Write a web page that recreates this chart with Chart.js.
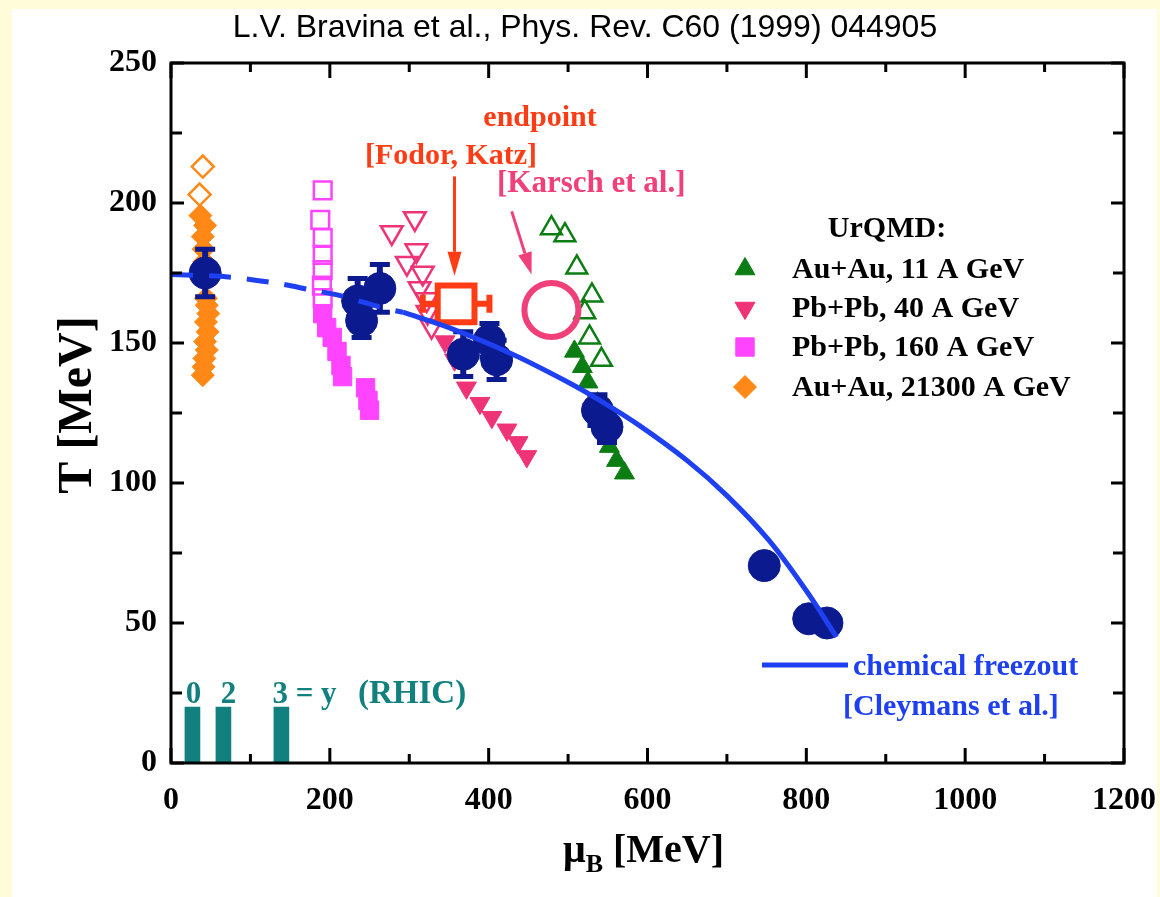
<!DOCTYPE html>
<html>
<head>
<meta charset="utf-8">
<script src="https://cdn.jsdelivr.net/npm/chart.js@4.4.1/dist/chart.umd.min.js"></script>
<style>
  html, body { margin: 0; padding: 0; background: #fffdd9; }
  canvas { display: block; }
</style>
</head>
<body>
<canvas id="c" width="1160" height="897"></canvas>
<script>
// ---- axis ticks ----
const muTicks = [0, 200, 400, 600, 800, 1000, 1200];
const muMinor = [100, 300, 500, 700, 900, 1100];
const tTicks = [0, 50, 100, 150, 200, 250];
const tMinor = [25, 75, 125, 175, 225];

// ---- UrQMD: Au+Au, 11 A GeV ----
const au11OpenMu = [479, 496, 511, 530, 521, 527, 542];
const au11OpenT  = [191, 188.5, 177, 167, 161, 152, 144];
const au11Mu = [508, 518, 525, 537, 552, 561, 571];
const au11T  = [147, 141.5, 136, 128.5, 113, 108, 103.5];

// ---- UrQMD: Pb+Pb, 40 A GeV ----
const pb40OpenMu = [307, 278, 309, 297, 317, 313, 322, 323, 328];
const pb40OpenT  = [194.5, 189.5, 183, 178.5, 175, 169.5, 165.5, 161, 156];
const pb40Mu = [345, 357, 372, 389, 404, 423, 437, 448];
const pb40T  = [150.5, 144, 134, 128.5, 123.5, 119, 114.5, 109.5];

// ---- UrQMD: Pb+Pb, 160 A GeV ----
const pb160OpenMu = [191, 188, 191, 191, 191, 190, 191];
const pb160OpenT  = [204.5, 194, 187.5, 181.5, 176, 170.5, 166];
const pb160Mu = [191, 196, 203, 209, 214, 216, 245, 248, 250];
const pb160T  = [160.5, 155.5, 152, 147, 142, 138, 134, 129.5, 126];

// ---- UrQMD: Au+Au, 21300 A GeV ----
const au21OpenMu = [40, 36];
const au21OpenT  = [213, 203];
const au21Mu = [37, 43, 40, 41, 42, 44, 45, 47, 44, 46, 43, 45, 42, 41, 40];
const au21T  = [195.5, 192, 188, 183.5, 179, 166, 163.5, 160.5, 157.5, 154, 150.5, 147.5, 144.5, 141.5, 138.5];

// ---- chemical freeze-out points with errors ----
const cfoMu  = [43, 235, 240, 263, 368, 401, 410, 537, 549, 747, 803, 826];
const cfoT   = [175, 165, 158, 169.5, 146, 151, 144, 126, 120, 70.5, 51.5, 50];
const cfoErr = [8.5, 8, 6, 8.5, 8, 6, 7, 5.5, 5.5, 0, 0, 0];

// ---- chemical freeze-out curve [Cleymans et al.] ----
const curveDashMu = [0, 75, 140, 175, 212, 267, 292];
const curveDashT  = [174.5, 173.5, 171, 169, 167, 162.5, 161];
const curveMu = [292, 350, 430, 500, 540, 590, 650, 700, 753, 800, 838];
const curveT  = [161, 155.5, 146, 136, 129.5, 120.5, 108, 95.5, 79.5, 61.5, 45];

// ---- critical endpoints ----
const fodorKatzMu = [359];
const fodorKatzT  = [164];
const fodorKatzErrMu = [42];
const karschMu = [479];
const karschT  = [161.8];

// ---- RHIC rapidity markers y = 0, 2, 3 ----
const rhicMu = [27, 66, 139];
const rhicT  = [20, 20, 20];

const pts = (mu, t) => mu.map((m, i) => ({ x: m, y: t[i] }));

const C = {
  navy: '#0b1a8e', curve: '#1f40f0', green: '#0c7d12', rose: '#ee3377',
  magenta: '#ff44ff', orange: '#ff8816', red: '#ff3c14', karsch: '#f0407a', teal: '#11807f'
};
const SERIF = '"Liberation Serif", "Times New Roman", serif';
const SANS = '"Liberation Sans", Arial, sans-serif';
const CLEAR = 'rgba(255,255,255,0)';

// page background: pale border and white panel
const panel = {
  id: 'panel',
  beforeDraw(chart) {
    const ctx = chart.ctx;
    ctx.save();
    ctx.fillStyle = '#fffdd9';
    ctx.fillRect(0, 0, chart.width, chart.height);
    ctx.fillStyle = '#ffffff';
    ctx.fillRect(12, 9, 1145, chart.height - 9);
    ctx.restore();
  }
};

// closed frame with inward ticks on all four sides
const frame = {
  id: 'frame',
  afterDatasetsDraw(chart) {
    const { ctx, chartArea: a, scales: { x, y } } = chart;
    ctx.save();
    ctx.strokeStyle = '#000';
    ctx.lineWidth = 3;
    ctx.strokeRect(a.left, a.top, a.right - a.left, a.bottom - a.top);
    const tickX = (v, len) => {
      const px = x.getPixelForValue(v);
      ctx.beginPath();
      ctx.moveTo(px, a.bottom); ctx.lineTo(px, a.bottom - len);
      ctx.moveTo(px, a.top); ctx.lineTo(px, a.top + len);
      ctx.stroke();
    };
    const tickY = (v, len) => {
      const py = y.getPixelForValue(v);
      ctx.beginPath();
      ctx.moveTo(a.left, py); ctx.lineTo(a.left + len, py);
      ctx.moveTo(a.right, py); ctx.lineTo(a.right - len, py);
      ctx.stroke();
    };
    muTicks.forEach(v => tickX(v, 15));
    muMinor.forEach(v => tickX(v, 9));
    tTicks.forEach(v => tickY(v, 13));
    tMinor.forEach(v => tickY(v, 11));
    ctx.restore();
  }
};

// vertical error bars under the freeze-out points, horizontal bar for the lattice endpoint
const errorBars = {
  id: 'errorBars',
  beforeDatasetDraw(chart, args) {
    const ds = chart.data.datasets[args.index];
    const { ctx, scales: { x, y } } = chart;
    if (ds.id === 'cfo') {
      ctx.save();
      ctx.strokeStyle = C.navy;
      cfoMu.forEach((m, i) => {
        if (!cfoErr[i]) return;
        const px = x.getPixelForValue(m);
        const top = y.getPixelForValue(cfoT[i] + cfoErr[i]);
        const bot = y.getPixelForValue(cfoT[i] - cfoErr[i]);
        ctx.lineWidth = 6;
        ctx.beginPath(); ctx.moveTo(px, top); ctx.lineTo(px, bot); ctx.stroke();
        ctx.lineWidth = 5;
        ctx.beginPath();
        ctx.moveTo(px - 10, top); ctx.lineTo(px + 10, top);
        ctx.moveTo(px - 10, bot); ctx.lineTo(px + 10, bot);
        ctx.stroke();
      });
      ctx.restore();
    }
    if (ds.id === 'fk') {
      ctx.save();
      ctx.strokeStyle = C.red;
      ctx.lineWidth = 6;
      fodorKatzMu.forEach((m, i) => {
        const py = y.getPixelForValue(fodorKatzT[i]);
        const l = x.getPixelForValue(m - fodorKatzErrMu[i]);
        const r = x.getPixelForValue(m + fodorKatzErrMu[i]);
        ctx.beginPath(); ctx.moveTo(l, py); ctx.lineTo(r, py); ctx.stroke();
        ctx.beginPath();
        ctx.moveTo(l, py - 9); ctx.lineTo(l, py + 9);
        ctx.moveTo(r, py - 9); ctx.lineTo(r, py + 9);
        ctx.stroke();
      });
      ctx.restore();
    }
  }
};

function arrow(ctx, x1, y1, x2, y2, color, width, headLen, headHalf) {
  const ang = Math.atan2(y2 - y1, x2 - x1);
  const bx = x2 - headLen * Math.cos(ang), by = y2 - headLen * Math.sin(ang);
  ctx.strokeStyle = color; ctx.lineWidth = width;
  ctx.beginPath(); ctx.moveTo(x1, y1); ctx.lineTo(bx, by); ctx.stroke();
  ctx.fillStyle = color;
  ctx.beginPath(); ctx.moveTo(x2, y2);
  ctx.lineTo(bx + headHalf * Math.sin(ang), by - headHalf * Math.cos(ang));
  ctx.lineTo(bx - headHalf * Math.sin(ang), by + headHalf * Math.cos(ang));
  ctx.closePath(); ctx.fill();
}

function drawMarker(ctx, style, px, py, r, rot) {
  if (Chart.helpers && Chart.helpers.drawPoint) {
    Chart.helpers.drawPoint(ctx, { pointStyle: style, radius: r, rotation: rot || 0, borderWidth: 1 }, px, py);
    return;
  }
  ctx.beginPath();
  ctx.arc(px, py, r, 0, Math.PI * 2);
  ctx.fill();
}

// titles, legend and annotations
const labels = {
  id: 'labels',
  afterDraw(chart) {
    const { ctx, scales: { x, y } } = chart;
    const X = v => x.getPixelForValue(v), Y = v => y.getPixelForValue(v);
    ctx.save();

    // citation
    ctx.fillStyle = '#000';
    ctx.font = '32px ' + SANS;
    ctx.textAlign = 'center';
    ctx.textBaseline = 'alphabetic';
    ctx.fillText('L.V. Bravina et al., Phys. Rev. C60 (1999) 044905', 585, 37);

    // axis titles
    ctx.font = 'bold 48px ' + SERIF;
    ctx.save();
    ctx.translate(91, 405);
    ctx.rotate(-Math.PI / 2);
    ctx.textAlign = 'center';
    ctx.fillText('T [MeV]', 0, 0);
    ctx.restore();

    ctx.textAlign = 'left';
    ctx.font = 'bold 40px ' + SERIF;
    let tx = 563;
    ctx.fillText('\u03bc', tx, 862);
    tx += ctx.measureText('\u03bc').width;
    ctx.font = 'bold 26px ' + SERIF;
    ctx.fillText('B', tx, 872);
    tx += ctx.measureText('B').width;
    ctx.font = 'bold 40px ' + SERIF;
    ctx.fillText(' [MeV]', tx, 862);

    // legend
    ctx.font = 'bold 30px ' + SERIF;
    ctx.textAlign = 'center';
    ctx.textBaseline = 'middle';
    ctx.fillText('UrQMD:', 887, 229);
    const rows = [
      { label: 'Au+Au, 11 A GeV', color: C.green, style: 'triangle', r: 11.5, rot: 0 },
      { label: 'Pb+Pb, 40 A GeV', color: C.rose, style: 'triangle', r: 11.5, rot: 180 },
      { label: 'Pb+Pb, 160 A GeV', color: C.magenta, style: 'rect', r: 13, rot: 0 },
      { label: 'Au+Au, 21300 A GeV', color: C.orange, style: 'rectRot', r: 11.5, rot: 0 }
    ];
    const rowY = [269, 308, 347, 387];
    rows.forEach((row, i) => {
      ctx.fillStyle = row.color; ctx.strokeStyle = row.color; ctx.lineWidth = 1;
      drawMarker(ctx, row.style, 745, rowY[i], row.r, row.rot);
      ctx.fillStyle = '#000';
      ctx.textAlign = 'left';
      ctx.fillText(row.label, 792, rowY[i] + 1);
    });

    // lattice endpoints
    ctx.fillStyle = C.red;
    ctx.textAlign = 'center';
    ctx.textBaseline = 'alphabetic';
    ctx.font = 'bold 30px ' + SERIF;
    ctx.fillText('endpoint', 540, 126);
    ctx.fillText('[Fodor, Katz]', 451, 164);
    arrow(ctx, X(357), Y(209.5), X(357), Y(174), C.red, 3, 24, 7);

    ctx.fillStyle = C.karsch;
    ctx.textAlign = 'left';
    ctx.font = 'bold 31px ' + SERIF;
    ctx.fillText('[Karsch et al.]', 497, 192);
    arrow(ctx, X(429), Y(197), X(454), Y(174.5), C.karsch, 3, 22, 7);

    // freeze-out curve key
    ctx.strokeStyle = C.curve;
    ctx.lineWidth = 5;
    ctx.beginPath(); ctx.moveTo(762, 665); ctx.lineTo(848, 665); ctx.stroke();
    ctx.fillStyle = C.curve;
    ctx.textBaseline = 'middle';
    ctx.font = 'bold 30px ' + SERIF;
    ctx.fillText('chemical freezout', 853, 667);
    ctx.fillText('[Cleymans et al.]', 843, 707);

    // RHIC rapidities
    ctx.fillStyle = C.teal;
    ctx.textBaseline = 'alphabetic';
    ctx.font = 'bold 31px ' + SERIF;
    ctx.textAlign = 'center';
    ctx.fillText('0', X(rhicMu[0]) + 1, 703);
    ctx.fillText('2', X(rhicMu[1]) + 5, 703);
    ctx.textAlign = 'left';
    ctx.fillText('3 = y', X(rhicMu[2]) - 9, 703);
    ctx.font = 'bold 33px ' + SERIF;
    ctx.fillText('(RHIC)', 358, 703);

    ctx.restore();
  }
};

const tickFont = { family: SERIF, weight: 'bold', size: 32 };

new Chart(document.getElementById('c'), {
  type: 'scatter',
  data: {
    datasets: [
      { id: 'curveDash', type: 'line', data: pts(curveDashMu, curveDashT), showLine: true, pointRadius: 0,
        borderColor: C.curve, borderWidth: 5, borderDash: [22, 16], tension: 0.3, order: 0 },
      { id: 'curve', type: 'line', data: pts(curveMu, curveT), showLine: true, pointRadius: 0,
        borderColor: C.curve, borderWidth: 5, tension: 0.35, order: 0 },
      { id: 'cfo', data: pts(cfoMu, cfoT), pointStyle: 'circle', pointRadius: 16,
        backgroundColor: C.navy, borderColor: C.navy, borderWidth: 1, order: 1 },
      { id: 'fk', data: pts(fodorKatzMu, fodorKatzT), pointStyle: 'rect', pointRadius: 26,
        backgroundColor: '#ffffff', borderColor: C.red, borderWidth: 6, order: 2 },
      { id: 'karsch', data: pts(karschMu, karschT), pointStyle: 'circle', pointRadius: 27,
        backgroundColor: CLEAR, borderColor: C.karsch, borderWidth: 6, order: 3 },
      { id: 'au11', data: pts(au11Mu, au11T), pointStyle: 'triangle', pointRadius: 11.5,
        backgroundColor: C.green, borderColor: C.green, borderWidth: 1, order: 5 },
      { id: 'au11open', data: pts(au11OpenMu, au11OpenT), pointStyle: 'triangle', pointRadius: 12,
        backgroundColor: CLEAR, borderColor: C.green, borderWidth: 2.5, order: 5 },
      { id: 'pb40', data: pts(pb40Mu, pb40T), pointStyle: 'triangle', pointRotation: 180, pointRadius: 11.5,
        backgroundColor: C.rose, borderColor: C.rose, borderWidth: 1, order: 5 },
      { id: 'pb40open', data: pts(pb40OpenMu, pb40OpenT), pointStyle: 'triangle', pointRotation: 180, pointRadius: 12.5,
        backgroundColor: CLEAR, borderColor: C.rose, borderWidth: 2.5, order: 5 },
      { id: 'pb160', data: pts(pb160Mu, pb160T), pointStyle: 'rect', pointRadius: 13,
        backgroundColor: C.magenta, borderColor: C.magenta, borderWidth: 1, order: 5 },
      { id: 'pb160open', data: pts(pb160OpenMu, pb160OpenT), pointStyle: 'rect', pointRadius: 12.5,
        backgroundColor: CLEAR, borderColor: C.magenta, borderWidth: 2.5, order: 5 },
      { id: 'au21', data: pts(au21Mu, au21T), pointStyle: 'rectRot', pointRadius: 11.5,
        backgroundColor: C.orange, borderColor: C.orange, borderWidth: 1, order: 6 },
      { id: 'au21open', data: pts(au21OpenMu, au21OpenT), pointStyle: 'rectRot', pointRadius: 11,
        backgroundColor: CLEAR, borderColor: C.orange, borderWidth: 2.5, order: 6 },
      { id: 'rhic', type: 'bar', data: pts(rhicMu, rhicT), backgroundColor: C.teal,
        barThickness: 15, order: 9 }
    ]
  },
  options: {
    responsive: false,
    animation: false,
    devicePixelRatio: 1,
    events: [],
    layout: { padding: { left: 0, right: 36, top: 63, bottom: 0 } },
    plugins: { legend: { display: false }, tooltip: { enabled: false }, title: { display: false } },
    scales: {
      x: {
        type: 'linear', min: 0, max: 1200, position: 'bottom', offset: false,
        afterFit(s) { s.height = 134; s.paddingLeft = 0; s.paddingRight = 0; },
        afterBuildTicks(s) { s.ticks = muTicks.map(v => ({ value: v })); },
        ticks: { font: tickFont, color: '#000', padding: 19, maxRotation: 0, autoSkip: false,
                 callback: v => String(v) },
        grid: { display: false, drawTicks: false, offset: false },
        border: { display: false }
      },
      y: {
        type: 'linear', min: 0, max: 250,
        afterFit(s) { s.width = 171; s.paddingTop = 0; s.paddingBottom = 0; },
        afterBuildTicks(s) { s.ticks = tTicks.map(v => ({ value: v })); },
        ticks: { font: tickFont, color: '#000', padding: 14, autoSkip: false,
                 callback: v => String(v) },
        grid: { display: false, drawTicks: false },
        border: { display: false }
      }
    }
  },
  plugins: [panel, errorBars, frame, labels]
});
</script>
</body>
</html>
